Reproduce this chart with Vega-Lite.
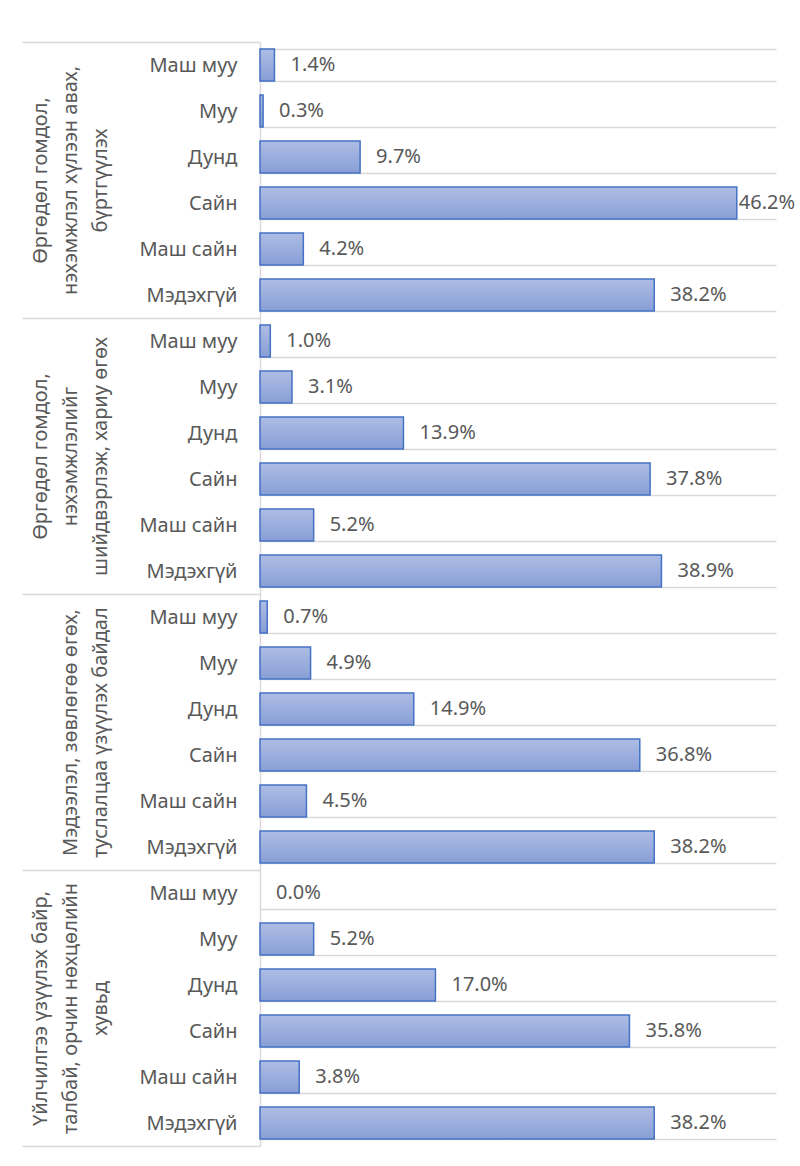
{
  "$schema": "https://vega.github.io/schema/vega-lite/v6.json",
  "autosize": "none",
  "width": 516,
  "height": 1104,
  "padding": {"left": 260, "top": 42, "right": 24, "bottom": 20},
  "background": "white",
  "config": {"view": {"stroke": null}, "font": "Noto Sans"},
  "data": {
    "values": [
      {"group": "Өргөдөл гомдол,|нэхэмжлэл хүлээн авах,|бүртгүүлэх", "item": "1|Маш муу", "v": 0.014},
      {"group": "Өргөдөл гомдол,|нэхэмжлэл хүлээн авах,|бүртгүүлэх", "item": "1|Муу", "v": 0.003},
      {"group": "Өргөдөл гомдол,|нэхэмжлэл хүлээн авах,|бүртгүүлэх", "item": "1|Дунд", "v": 0.097},
      {"group": "Өргөдөл гомдол,|нэхэмжлэл хүлээн авах,|бүртгүүлэх", "item": "1|Сайн", "v": 0.462},
      {"group": "Өргөдөл гомдол,|нэхэмжлэл хүлээн авах,|бүртгүүлэх", "item": "1|Маш сайн", "v": 0.042},
      {"group": "Өргөдөл гомдол,|нэхэмжлэл хүлээн авах,|бүртгүүлэх", "item": "1|Мэдэхгүй", "v": 0.382},
      {"group": "Өргөдөл гомдол,|нэхэмжлэлийг|шийдвэрлэж, хариу өгөх", "item": "2|Маш муу", "v": 0.010},
      {"group": "Өргөдөл гомдол,|нэхэмжлэлийг|шийдвэрлэж, хариу өгөх", "item": "2|Муу", "v": 0.031},
      {"group": "Өргөдөл гомдол,|нэхэмжлэлийг|шийдвэрлэж, хариу өгөх", "item": "2|Дунд", "v": 0.139},
      {"group": "Өргөдөл гомдол,|нэхэмжлэлийг|шийдвэрлэж, хариу өгөх", "item": "2|Сайн", "v": 0.378},
      {"group": "Өргөдөл гомдол,|нэхэмжлэлийг|шийдвэрлэж, хариу өгөх", "item": "2|Маш сайн", "v": 0.052},
      {"group": "Өргөдөл гомдол,|нэхэмжлэлийг|шийдвэрлэж, хариу өгөх", "item": "2|Мэдэхгүй", "v": 0.389},
      {"group": "Мэдээлэл, зөвлөгөө өгөх,|туслалцаа үзүүлэх байдал", "item": "3|Маш муу", "v": 0.007},
      {"group": "Мэдээлэл, зөвлөгөө өгөх,|туслалцаа үзүүлэх байдал", "item": "3|Муу", "v": 0.049},
      {"group": "Мэдээлэл, зөвлөгөө өгөх,|туслалцаа үзүүлэх байдал", "item": "3|Дунд", "v": 0.149},
      {"group": "Мэдээлэл, зөвлөгөө өгөх,|туслалцаа үзүүлэх байдал", "item": "3|Сайн", "v": 0.368},
      {"group": "Мэдээлэл, зөвлөгөө өгөх,|туслалцаа үзүүлэх байдал", "item": "3|Маш сайн", "v": 0.045},
      {"group": "Мэдээлэл, зөвлөгөө өгөх,|туслалцаа үзүүлэх байдал", "item": "3|Мэдэхгүй", "v": 0.382},
      {"group": "Үйлчилгээ үзүүлэх байр,|талбай, орчин нөхцөлийн|хувьд", "item": "4|Маш муу", "v": 0.0},
      {"group": "Үйлчилгээ үзүүлэх байр,|талбай, орчин нөхцөлийн|хувьд", "item": "4|Муу", "v": 0.052},
      {"group": "Үйлчилгээ үзүүлэх байр,|талбай, орчин нөхцөлийн|хувьд", "item": "4|Дунд", "v": 0.170},
      {"group": "Үйлчилгээ үзүүлэх байр,|талбай, орчин нөхцөлийн|хувьд", "item": "4|Сайн", "v": 0.358},
      {"group": "Үйлчилгээ үзүүлэх байр,|талбай, орчин нөхцөлийн|хувьд", "item": "4|Маш сайн", "v": 0.038},
      {"group": "Үйлчилгээ үзүүлэх байр,|талбай, орчин нөхцөлийн|хувьд", "item": "4|Мэдэхгүй", "v": 0.382}
    ]
  },
  "resolve": {"scale": {"y": "independent"}, "axis": {"y": "independent"}},
  "layer": [
    {
      "mark": {"type": "point", "opacity": 0},
      "encoding": {
        "y": {
          "field": "group",
          "type": "nominal",
          "sort": null,
          "scale": {"type": "band", "paddingInner": 0, "paddingOuter": 0},
          "axis": {
            "orient": "left",
            "title": null,
            "labelExpr": "!isString(datum.value) ? '' : length(split(datum.value, '|')) < 3 ? split('|' + datum.value, '|') : split(datum.value, '|')",
            "domain": false,
            "ticks": true,
            "tickBand": "extent",
            "tickSize": 238,
            "tickColor": "#d9d9d9",
            "tickWidth": 1.5,
            "grid": false,
            "labelAngle": -90,
            "labelAlign": "center",
            "labelBaseline": "bottom",
            "labelPadding": -28,
            "labelFontSize": 20,
            "labelFont": "Noto Sans",
            "labelColor": "#595959",
            "labelLineHeight": 30,
            "labelLimit": 1000,
            "labelOverlap": false
          }
        }
      }
    },
    {
      "layer": [
        {
          "mark": {
            "type": "bar",
            "fill": {
              "gradient": "linear",
              "x1": 0, "y1": 0, "x2": 0, "y2": 1,
              "stops": [
                {"offset": 0, "color": "#aebde5"},
                {"offset": 1, "color": "#889ed6"}
              ]
            },
            "stroke": "#4472c4",
            "strokeWidth": 1.5
          },
          "encoding": {
            "y": {
              "field": "item",
              "type": "nominal",
              "sort": null,
              "scale": {"paddingInner": 0.3, "paddingOuter": 0.15},
              "axis": {
                "orient": "left",
                "title": null,
                "labelExpr": "isString(datum.value) ? split(datum.value, '|')[1] : ''",
                "ticks": false,
                "tickBand": "extent",
                "grid": true,
                "gridColor": "#d9d9d9",
                "gridWidth": 1.5,
                "domainColor": "#d9d9d9",
                "domainWidth": 1.5,
                "labelPadding": 23,
                "labelFontSize": 20,
                "labelFont": "Noto Sans",
                "labelColor": "#595959",
                "labelAlign": "right",
                "labelBaseline": "middle",
                "labelLimit": 0
              }
            },
            "x": {"field": "v", "type": "quantitative", "scale": {"domain": [0, 0.5]}, "axis": null},
            "strokeOpacity": {"condition": {"test": "datum.v == 0", "value": 0}, "value": 1}
          }
        },
        {
          "mark": {"type": "text", "align": "left", "baseline": "middle", "dx": 16, "fontSize": 20, "font": "Noto Sans", "color": "#595959"},
          "encoding": {
            "y": {"field": "item", "type": "nominal", "sort": null},
            "x": {"field": "v", "type": "quantitative"},
            "text": {"field": "v", "type": "quantitative", "format": ".1%"},
            "opacity": {"condition": {"test": "datum.v > 0.45", "value": 0}, "value": 1}
          }
        },
        {
          "mark": {"type": "text", "align": "left", "baseline": "middle", "dx": 2, "fontSize": 20, "font": "Noto Sans", "color": "#595959"},
          "encoding": {
            "y": {"field": "item", "type": "nominal", "sort": null},
            "x": {"field": "v", "type": "quantitative"},
            "text": {"field": "v", "type": "quantitative", "format": ".1%"},
            "opacity": {"condition": {"test": "datum.v > 0.45", "value": 1}, "value": 0}
          }
        }
      ]
    }
  ]
}
